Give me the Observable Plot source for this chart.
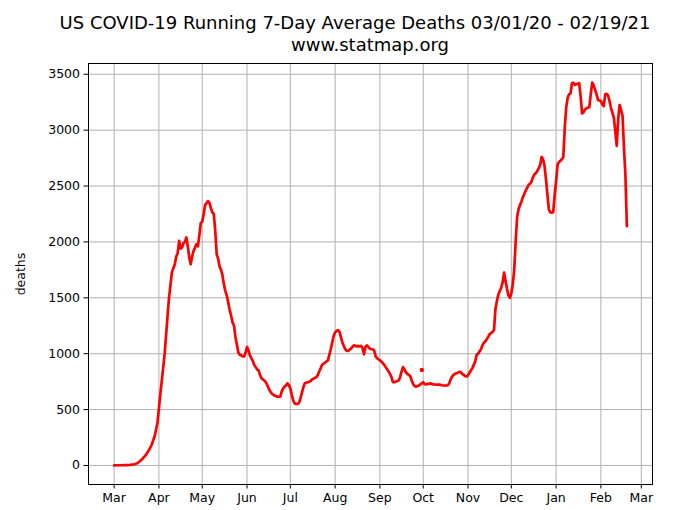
<!DOCTYPE html>
<html><head><meta charset="utf-8">
<script src="https://cdn.jsdelivr.net/npm/d3@7"></script>
<script src="https://cdn.jsdelivr.net/npm/@observablehq/plot@0.6"></script>
<style>
body{margin:0;background:#fff;font-family:"DejaVu Sans",sans-serif;}
#title{height:56px;width:683px;position:relative;font-size:18px;line-height:22.5px;color:#000}
#title div{position:absolute;white-space:nowrap;transform:translateX(-50%)}
</style></head><body>
<div id="title"><div id="t1" style="left:355px;top:11.5px"></div><div id="t2" style="left:370px;top:34px"></div></div>
<div id="chart"></div>
<script>
const titleLines = ["US COVID-19 Running 7-Day Average Deaths 03/01/20 - 02/19/21", "www.statmap.org"];
const yLabel = "deaths";
const monthLabels = ["Mar","Apr","May","Jun","Jul","Aug","Sep","Oct","Nov","Dec","Jan","Feb","Mar"];
const monthTickDates = ["2020-03-01","2020-04-01","2020-05-01","2020-06-01","2020-07-01","2020-08-01","2020-09-01","2020-10-01","2020-11-01","2020-12-01","2021-01-01","2021-02-01","2021-03-01"];
const yTicks = [0,500,1000,1500,2000,2500,3000,3500];

const dates = [
"2020-03-01","2020-03-05","2020-03-09","2020-03-12","2020-03-15","2020-03-17","2020-03-19","2020-03-21","2020-03-23","2020-03-25","2020-03-27","2020-03-29","2020-03-31",
"2020-04-02","2020-04-03","2020-04-05","2020-04-07","2020-04-08","2020-04-10","2020-04-12","2020-04-13","2020-04-14","2020-04-15","2020-04-16","2020-04-17","2020-04-18","2020-04-19","2020-04-20","2020-04-21","2020-04-22","2020-04-23","2020-04-24","2020-04-25","2020-04-26","2020-04-27","2020-04-28","2020-04-29","2020-04-30",
"2020-05-01","2020-05-02","2020-05-03","2020-05-05","2020-05-06","2020-05-07","2020-05-08","2020-05-09","2020-05-10","2020-05-11","2020-05-12","2020-05-13","2020-05-14","2020-05-15","2020-05-16","2020-05-17","2020-05-18","2020-05-19","2020-05-20","2020-05-21","2020-05-22","2020-05-23","2020-05-24","2020-05-25","2020-05-26","2020-05-27","2020-05-28","2020-05-29","2020-05-30","2020-05-31",
"2020-06-01","2020-06-02","2020-06-03","2020-06-04","2020-06-05","2020-06-06","2020-06-07","2020-06-08","2020-06-09","2020-06-10","2020-06-11","2020-06-12","2020-06-13","2020-06-14","2020-06-15","2020-06-16","2020-06-17","2020-06-18","2020-06-19","2020-06-20","2020-06-22","2020-06-24","2020-06-25","2020-06-26","2020-06-27","2020-06-28","2020-06-29","2020-06-30",
"2020-07-01","2020-07-02","2020-07-03","2020-07-04","2020-07-05","2020-07-06","2020-07-07","2020-07-08","2020-07-09","2020-07-10","2020-07-11","2020-07-12","2020-07-13","2020-07-14","2020-07-15","2020-07-16","2020-07-17","2020-07-18","2020-07-19","2020-07-20","2020-07-21","2020-07-22","2020-07-23","2020-07-24","2020-07-25","2020-07-26","2020-07-27","2020-07-28","2020-07-29","2020-07-30","2020-07-31",
"2020-08-01","2020-08-02","2020-08-03","2020-08-04","2020-08-05","2020-08-06","2020-08-07","2020-08-08","2020-08-09","2020-08-10","2020-08-11","2020-08-12","2020-08-13","2020-08-14","2020-08-15","2020-08-16","2020-08-17","2020-08-18","2020-08-19","2020-08-20","2020-08-21","2020-08-22","2020-08-23","2020-08-24","2020-08-25","2020-08-26","2020-08-27","2020-08-28","2020-08-29","2020-08-30","2020-08-31",
"2020-09-01","2020-09-02","2020-09-03","2020-09-04","2020-09-05","2020-09-06","2020-09-07","2020-09-08","2020-09-09","2020-09-10","2020-09-11","2020-09-12","2020-09-13","2020-09-14","2020-09-15","2020-09-16","2020-09-17","2020-09-18","2020-09-19","2020-09-20","2020-09-21","2020-09-22","2020-09-23","2020-09-24","2020-09-25","2020-09-26","2020-09-27","2020-09-28","2020-09-29","2020-09-30",
"2020-10-01","2020-10-02","2020-10-03","2020-10-04","2020-10-05","2020-10-06","2020-10-07","2020-10-08","2020-10-10","2020-10-12","2020-10-14","2020-10-16","2020-10-18","2020-10-19","2020-10-20","2020-10-21","2020-10-22","2020-10-23","2020-10-24","2020-10-25","2020-10-26","2020-10-27","2020-10-28","2020-10-29","2020-10-30","2020-10-31",
"2020-11-01","2020-11-02","2020-11-03","2020-11-04","2020-11-05","2020-11-06","2020-11-07","2020-11-08","2020-11-09","2020-11-10","2020-11-11","2020-11-12","2020-11-13","2020-11-14","2020-11-15","2020-11-16","2020-11-17","2020-11-18","2020-11-19","2020-11-20","2020-11-21","2020-11-22","2020-11-23","2020-11-24","2020-11-25","2020-11-26","2020-11-27","2020-11-28","2020-11-29","2020-11-30",
"2020-12-01","2020-12-02","2020-12-03","2020-12-04","2020-12-05","2020-12-06","2020-12-07","2020-12-08","2020-12-09","2020-12-10","2020-12-11","2020-12-12","2020-12-13","2020-12-14","2020-12-15","2020-12-16","2020-12-17","2020-12-18","2020-12-19","2020-12-20","2020-12-21","2020-12-22","2020-12-23","2020-12-24","2020-12-25","2020-12-26","2020-12-27","2020-12-28","2020-12-29","2020-12-30","2020-12-31",
"2021-01-01","2021-01-02","2021-01-03","2021-01-04","2021-01-05","2021-01-06","2021-01-07","2021-01-08","2021-01-09","2021-01-10","2021-01-11","2021-01-12","2021-01-13","2021-01-14","2021-01-15","2021-01-16","2021-01-17","2021-01-18","2021-01-19","2021-01-20","2021-01-21","2021-01-22","2021-01-23","2021-01-24","2021-01-25","2021-01-26","2021-01-27","2021-01-28","2021-01-29","2021-01-30","2021-01-31",
"2021-02-01","2021-02-02","2021-02-03","2021-02-04","2021-02-05","2021-02-06","2021-02-07","2021-02-08","2021-02-09","2021-02-10","2021-02-11","2021-02-12","2021-02-13","2021-02-14","2021-02-15","2021-02-16","2021-02-17","2021-02-18","2021-02-19"];

const deaths = [
1,2,4,6,10,20,40,65,95,135,185,260,380,
640,760,1000,1340,1500,1730,1800,1870,1900,2010,1940,1950,1990,2000,2040,1960,1860,1800,1870,1920,1950,1980,1960,2060,2170,
2180,2250,2330,2365,2350,2300,2265,2250,2100,1890,1850,1780,1750,1700,1620,1560,1520,1460,1390,1340,1280,1250,1150,1080,1010,990,985,975,975,1010,
1060,1030,985,960,935,900,880,860,850,810,780,770,760,745,720,690,665,645,635,625,615,615,660,690,705,715,735,720,
690,630,580,555,550,550,560,600,650,700,735,740,745,750,755,770,775,785,790,810,840,870,900,910,920,930,940,990,1040,1100,1160,
1190,1205,1210,1195,1150,1100,1070,1040,1025,1025,1035,1045,1060,1075,1070,1065,1070,1065,1070,1050,995,1060,1075,1060,1045,1040,1040,1030,980,960,950,
940,930,915,900,880,860,840,820,790,745,745,750,755,760,790,840,880,860,835,820,810,800,760,730,710,705,710,715,725,735,
745,728,725,730,730,735,730,725,722,725,718,715,718,735,770,795,810,820,825,830,838,835,820,810,800,795,
805,830,850,870,900,930,990,1000,1020,1040,1075,1100,1110,1130,1150,1175,1185,1195,1210,1400,1470,1530,1560,1590,1640,1725,1650,1580,1520,1500,
1540,1620,1750,2000,2220,2290,2330,2360,2400,2430,2460,2485,2510,2520,2540,2580,2605,2615,2635,2660,2690,2760,2740,2680,2560,2420,2290,2265,2260,2265,2420,
2540,2690,2715,2725,2740,2760,3020,3200,3290,3320,3330,3420,3425,3405,3410,3415,3420,3300,3150,3160,3185,3195,3200,3205,3320,3425,3400,3360,3320,3270,3265,
3260,3230,3215,3320,3325,3310,3260,3200,3155,3110,2990,2860,3100,3225,3180,3130,2840,2600,2140];

const outlierDates = ["2020-09-30"];
const outlierDeaths = [855];

document.getElementById("t1").textContent = titleLines[0];
document.getElementById("t2").textContent = titleLines[1];

const parse = s => new Date(s + "T00:00:00Z");
const data = dates.map((d, i) => ({date: parse(d), deaths: deaths[i]}));
const outliers = outlierDates.map((d, i) => ({date: parse(d), deaths: outlierDeaths[i]}));
const monthTicks = monthTickDates.map(parse);
const labelByTime = new Map(monthTicks.map((d, i) => [+d, monthLabels[i]]));

// matplotlib-style 5% autoscale margins
const t0 = +data[0].date, t1 = +data[data.length - 1].date;
const xPad = 0.05 * (t1 - t0);
const yMinV = d3.min(deaths), yMaxV = d3.max(deaths);
const yPad = 0.05 * (yMaxV - yMinV);

const chart = Plot.plot({
  width: 683, height: 454,
  marginLeft: 88, marginRight: 31, marginTop: 7, marginBottom: 26,
  style: {fontFamily: "DejaVu Sans", fontSize: "12.5px", color: "#000", background: "#fff", overflow: "visible"},
  x: {type: "utc", domain: [new Date(t0 - xPad), new Date(t1 + xPad)]},
  y: {domain: [yMinV - yPad, yMaxV + yPad]},
  marks: [
    Plot.gridX({ticks: monthTicks, stroke: "#b0b0b0", strokeOpacity: 1, strokeWidth: 1}),
    Plot.gridY({ticks: yTicks, stroke: "#b0b0b0", strokeOpacity: 1, strokeWidth: 1}),
    Plot.line(data, {x: "date", y: "deaths", stroke: "red", strokeWidth: 2.7}),
    Plot.dot(outliers, {x: "date", y: "deaths", r: 2.2, fill: "red", stroke: "none"}),
    Plot.frame({stroke: "#000", strokeWidth: 1}),
    Plot.axisX({ticks: monthTicks, tickFormat: d => labelByTime.get(+d), tickSize: 4.5, tickPadding: 4, label: null}),
    Plot.axisY({ticks: yTicks, tickFormat: d => String(d), tickSize: 4.5, tickPadding: 4, label: yLabel, labelAnchor: "center", labelArrow: "none", labelOffset: 72})
  ]
});
document.getElementById("chart").appendChild(chart);
</script></body></html>
